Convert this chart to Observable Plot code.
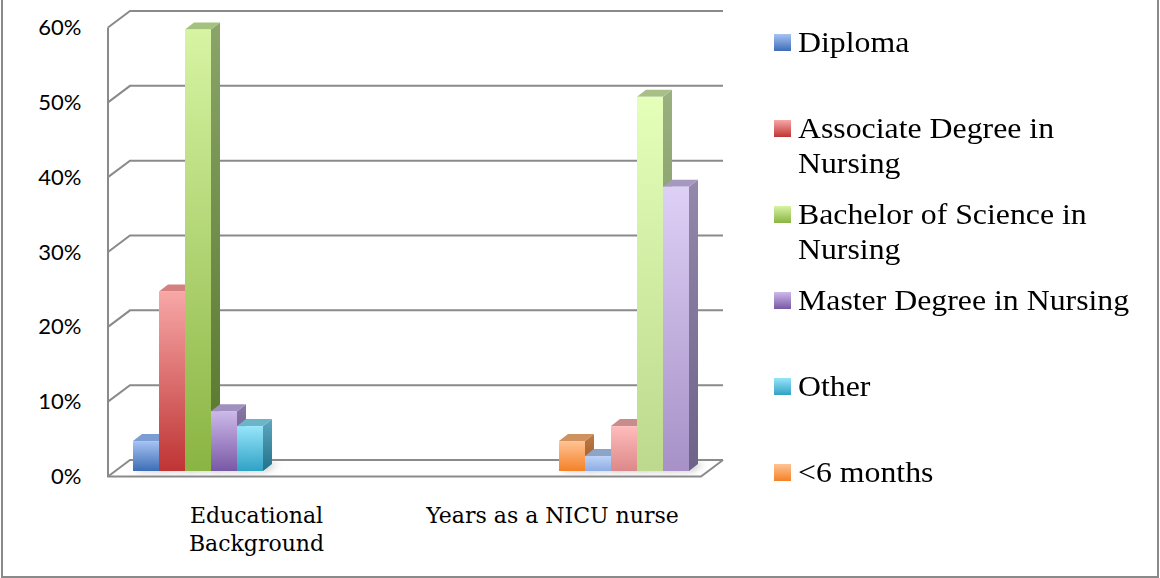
<!DOCTYPE html>
<html>
<head>
<meta charset="utf-8">
<script src="https://cdn.jsdelivr.net/npm/d3@7"></script>
<script src="https://cdn.jsdelivr.net/npm/@observablehq/plot@0.6"></script>
<style>
  body { margin: 0; background: #fff; }
  #wrap { position: relative; width: 1160px; height: 578px; overflow: hidden; background: #fff; }
  #chart { position: absolute; left: 0; top: 0; }
  #frame { position: absolute; left: 1px; top: -4px; width: 1158px; height: 582px; border: 2px solid #8a8a8a; box-sizing: border-box; pointer-events: none; }
  .item { position: absolute; left: 774px; font-family: "Liberation Serif", "Times New Roman", serif; font-size: 30px; line-height: 35px; color: #000; }
  .sw { position: absolute; left: 0; top: 10px; width: 17px; height: 17px; }
  .txt { position: absolute; left: 24px; top: 0; width: 325px; transform: scaleX(1.06); transform-origin: left top; }
</style>
</head>
<body>
<div id="wrap">
  <div id="chart"></div>
  <div id="legend"></div>
  <div id="frame"></div>
</div>
<script>
// ---- data ----
const categories = ["Educational Background", "Years as a NICU nurse"];
const series = [
  "Diploma",
  "Associate Degree in Nursing",
  "Bachelor of Science in Nursing",
  "Master Degree in Nursing",
  "Other",
  "<6 months",
  "6 months - 1 year",
  "1 - 5 years",
  "5 - 10 years",
  ">10 years"
];
const educationalValues = [0.04, 0.24, 0.59, 0.08, 0.06, 0, 0, 0, 0, 0];
const yearsValues       = [0, 0, 0, 0, 0, 0.04, 0.02, 0.06, 0.50, 0.38];
const yTicks = [0, 0.1, 0.2, 0.3, 0.4, 0.5, 0.6];
const legendCount = 6;

// ---- styles: [front top, front bottom, top face, side top, side bottom] ----
const palette = [
  ["#a6c3f3", "#3d6db6", "#7c9dd4", "#5b7db8", "#2f5590"],
  ["#f7a7a7", "#bf3434", "#d48080", "#a84848", "#7d2323"],
  ["#d7f4a3", "#8ab443", "#a5c17e", "#8aa46a", "#55752a"],
  ["#cdb9ea", "#7858a5", "#a090bf", "#8a7aa6", "#5d477d"],
  ["#96e5fa", "#30a2c5", "#6cb4c8", "#5ea8c0", "#22708a"],
  ["#ffc394", "#f48127", "#cf915e", "#c07a44", "#9a5a24"],
  ["#bdd3f7", "#8dace4", "#8da4c9", "#7890b8", "#5a72a0"],
  ["#ffbcbc", "#dc8888", "#c88c8c", "#b07878", "#905858"],
  ["#e4ffb9", "#bcd98d", "#a8c087", "#9ab080", "#6e8a50"],
  ["#ddd0f5", "#a791c7", "#a798c0", "#9488ac", "#6d6288"]
];

const rows = [];
categories.forEach((c, ci) => {
  const vals = ci === 0 ? educationalValues : yearsValues;
  series.forEach((s, si) => {
    if (vals[si] > 0) rows.push({category: c, ci, series: s, si, value: vals[si]});
  });
});

// oblique depth offsets (front plane and back wall relative to the bar plane)
const FRONT = [-7, 5.5], BACK = [15, -11], BAR_DEPTH = [9, -7];
const gridColor = "#8a8a8a";

function wallRender(index, scales, values, dimensions) {
  const y = scales.y;
  let x0, x1;
  if (scales.fx && scales.fx.range) { [x0, x1] = scales.fx.range(); }
  else { const r = scales.x.range(); x0 = r[0]; x1 = r[0] + categories.length * (r[1] - r[0]); }
  const g = d3.create("svg:g").attr("fill", "none").attr("stroke", gridColor).attr("stroke-width", 2);
  const y0 = y(0), yTop = y(d3.max(yTicks));
  g.append("path").attr("fill", "#fff").attr("stroke", "none")
    .attr("d", `M${x0 + FRONT[0]},${y0 + FRONT[1]}L${x1 + FRONT[0]},${y0 + FRONT[1]}L${x1 + BACK[0]},${y0 + BACK[1]}L${x0 + BACK[0]},${y0 + BACK[1]}Z`);
  for (const t of yTicks) {
    const yy = y(t);
    g.append("path").attr("d", `M${x0 + FRONT[0]},${yy + FRONT[1]}L${x0 + BACK[0]},${yy + BACK[1]}L${x1 + BACK[0]},${yy + BACK[1]}`);
  }
  g.append("path").attr("d", `M${x0 + FRONT[0]},${yTop + FRONT[1]}L${x0 + FRONT[0]},${y0 + FRONT[1]}L${x1 + FRONT[0]},${y0 + FRONT[1]}L${x1 + BACK[0]},${y0 + BACK[1]}`);
  return g.node();
}

function barRender(index, scales, values, dimensions) {
  const {x, y} = scales;
  const bw = x.bandwidth();
  const g = d3.create("svg:g");
  const defs = g.append("defs");
  const ids = Array.from(index).sort((a, b) => rows[a].si - rows[b].si);
  if (!ids.length) return g.node();
  const ci = rows[ids[0]].ci;
  defs.append("filter").attr("id", `blur${ci}`).attr("x", "-50%").attr("y", "-50%").attr("width", "200%").attr("height", "200%")
    .append("feGaussianBlur").attr("stdDeviation", 3);
  const y0 = y(0);
  for (const i of ids) {
    const d = rows[i];
    const xa = x(d.series), xb = xa + bw;
    g.append("path").attr("fill", "#9a9a9a").attr("fill-opacity", 0.45).attr("filter", `url(#blur${ci})`)
      .attr("d", `M${xa + 2},${y0 + 1}L${xb + 4},${y0 + 1}L${xb + 16},${y0 - 8}L${xa + 12},${y0 - 8}Z`);
  }
  for (const i of ids) {
    const d = rows[i];
    const p = palette[d.si];
    const xa = x(d.series), xb = xa + bw, yt = y(d.value);
    const fid = `fr${ci}-${d.si}`, sid = `sd${ci}-${d.si}`;
    const fg = defs.append("linearGradient").attr("id", fid).attr("x1", 0).attr("y1", 0).attr("x2", 0).attr("y2", 1);
    fg.append("stop").attr("offset", "0%").attr("stop-color", p[0]);
    fg.append("stop").attr("offset", "100%").attr("stop-color", p[1]);
    const sg = defs.append("linearGradient").attr("id", sid).attr("x1", 0).attr("y1", 0).attr("x2", 0).attr("y2", 1);
    sg.append("stop").attr("offset", "0%").attr("stop-color", p[3]);
    sg.append("stop").attr("offset", "100%").attr("stop-color", p[4]);
    const [dx, dy] = BAR_DEPTH;
    g.append("path").attr("fill", `url(#${sid})`)
      .attr("d", `M${xb},${yt}L${xb + dx},${yt + dy}L${xb + dx},${y0 + dy}L${xb},${y0}Z`);
    g.append("path").attr("fill", p[2])
      .attr("d", `M${xa},${yt}L${xb},${yt}L${xb + dx},${yt + dy}L${xa + dx},${yt + dy}Z`);
    g.append("rect").attr("x", xa).attr("y", yt).attr("width", bw).attr("height", y0 - yt).attr("fill", `url(#${fid})`);
  }
  return g.node();
}

const chart = Plot.plot({
  width: 760,
  height: 578,
  marginLeft: 114,
  marginRight: 53,
  marginTop: 22,
  marginBottom: 107,
  style: {background: "transparent", overflow: "visible", color: "#000"},
  fx: {domain: categories, padding: 0, label: null},
  x: {domain: series, paddingInner: 0, paddingOuter: 0.68, axis: null},
  y: {domain: [0, 0.6], label: null},
  marks: [
    Plot.ruleY(yTicks.map(t => ({t, category: categories[0]})), {y: "t", fx: "category", render: wallRender}),
    Plot.axisY({ticks: yTicks, tickFormat: d3.format(".0%"), tickSize: 0, tickPadding: 34, dy: 5.5,
      fontSize: 22, fontFamily: "Lato, sans-serif", label: null}),
    Plot.axisFx({anchor: "bottom", tickSize: 0, tickPadding: 31, dx: -7, fontSize: 22,
      fontFamily: "DejaVu Serif, serif", lineHeight: 1.3, label: null,
      tickFormat: d => d === "Educational Background" ? "Educational\nBackground" : d}),
    Plot.barY(rows, {fx: "category", x: "series", y1: 0, y2: "value", render: barRender})
  ]
});
document.getElementById("chart").appendChild(chart);

// ---- legend ----
const legend = document.getElementById("legend");
series.slice(0, legendCount).forEach((s, i) => {
  const p = palette[i];
  const item = document.createElement("div");
  item.className = "item";
  item.style.top = (24 + 86 * i) + "px";
  const sw = document.createElement("div");
  sw.className = "sw";
  sw.style.background = `linear-gradient(${p[0]}, ${p[1]})`;
  const txt = document.createElement("div");
  txt.className = "txt";
  txt.textContent = s;
  item.appendChild(sw);
  item.appendChild(txt);
  legend.appendChild(item);
});
</script>
</body>
</html>
